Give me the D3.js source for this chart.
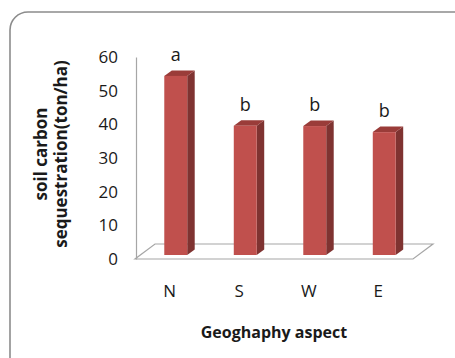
<!DOCTYPE html>
<html>
<head>
<meta charset="utf-8">
<script src="https://cdn.jsdelivr.net/npm/d3@7"></script>
<style>
  html, body { margin: 0; padding: 0; background: #ffffff; }
  svg { display: block; }
  text { font-family: "Open Sans", Lato, sans-serif; fill: #1a1a1a; }
</style>
</head>
<body>
<svg id="chart" width="455" height="358"></svg>
<script>
// Soil carbon sequestration by geographic aspect
const categories = ["N", "S", "W", "E"];
const carbonValues = [53.2, 38.4, 38.3, 36.5];
const groupLetters = ["a", "b", "b", "b"];
const yTicks = [0, 10, 20, 30, 40, 50, 60];

const svg = d3.select("#chart");

// Outer frame with rounded corner
svg.append("rect")
  .attr("x", 10).attr("y", 12)
  .attr("width", 470).attr("height", 370)
  .attr("rx", 18).attr("ry", 18)
  .attr("fill", "#ffffff")
  .attr("stroke", "#8c8c8c")
  .attr("stroke-width", 1.6);

// Plot geometry: front floor edge and depth vector of the 3D floor
const floorLeft = 135, floorRight = 413;
const depthX = 20, depthY = -15;

const y = d3.scaleLinear().domain([0, 60]).range([259, 57]);
const x = d3.scaleBand().domain(categories).range([floorLeft, floorRight]);

// Floor
const fy = y(0);
svg.append("path")
  .attr("d", `M${floorLeft},${fy} L${floorRight},${fy} L${floorRight + depthX},${fy + depthY} L${floorLeft + depthX},${fy + depthY} Z`)
  .attr("fill", "#ffffff")
  .attr("stroke", "#a6a6a6")
  .attr("stroke-width", 1.2);

// Value axis
const yAxis = d3.axisLeft(y).tickValues(yTicks).tickSize(0).tickSizeOuter(0).tickPadding(18);
const yg = svg.append("g").attr("transform", `translate(${floorLeft + 1},0)`).call(yAxis);
yg.attr("font-size", 17).attr("font-family", "'Open Sans', sans-serif");
yg.select(".domain").attr("stroke", "#a6a6a6").attr("stroke-width", 1.2);
yg.selectAll("text").attr("fill", "#1a1a1a");

// Category axis labels
const xAxis = d3.axisBottom(x).tickSize(0).tickPadding(26);
const xg = svg.append("g").attr("transform", `translate(0,${fy})`).call(xAxis);
xg.attr("font-size", 17).attr("font-family", "'Open Sans', sans-serif");
xg.select(".domain").remove();
xg.selectAll("text").attr("fill", "#1a1a1a");

// Bars drawn as 3D columns, set back slightly from the front floor edge
const barOffX = 6, barOffY = -4;
const barW = x.bandwidth() * 0.33;
const extX = 7.5, extY = -5.5;

const bars = svg.append("g").selectAll("g")
  .data(categories.map((c, i) => ({ c, v: carbonValues[i], letter: groupLetters[i] })))
  .join("g");

bars.each(function (d) {
  const g = d3.select(this);
  const cx = x(d.c) + x.bandwidth() / 2 + barOffX;
  const x0 = cx - barW / 2, x1 = cx + barW / 2;
  const yb = y(0) + barOffY, yt = y(d.v) + barOffY;
  // side face
  g.append("path")
    .attr("d", `M${x1},${yb} L${x1 + extX},${yb + extY} L${x1 + extX},${yt + extY} L${x1},${yt} Z`)
    .attr("fill", "#7f3331");
  // top face
  g.append("path")
    .attr("d", `M${x0},${yt} L${x0 + extX},${yt + extY} L${x1 + extX},${yt + extY} L${x1},${yt} Z`)
    .attr("fill", "#9a3c39");
  // front face
  g.append("rect")
    .attr("x", x0).attr("y", yt)
    .attr("width", barW).attr("height", yb - yt)
    .attr("fill", "#c0504d");
  // significance letter
  g.append("text")
    .attr("x", cx).attr("y", yt - 15)
    .attr("text-anchor", "middle")
    .style("font-size", "18px")
    .text(d.letter);
});

// Axis titles
svg.append("text")
  .attr("x", 274).attr("y", 338)
  .attr("text-anchor", "middle")
  .style("font-size", "16px").style("font-weight", "bold")
  .text("Geoghaphy aspect");

const yTitle = svg.append("text")
  .attr("transform", "translate(0,154) rotate(-90)")
  .attr("text-anchor", "middle")
  .style("font-size", "17px").style("font-weight", "bold");
yTitle.append("tspan").attr("x", 0).attr("y", 47).text("soil carbon");
yTitle.append("tspan").attr("x", 0).attr("y", 67).text("sequestration(ton/ha)");
</script>
</body>
</html>
